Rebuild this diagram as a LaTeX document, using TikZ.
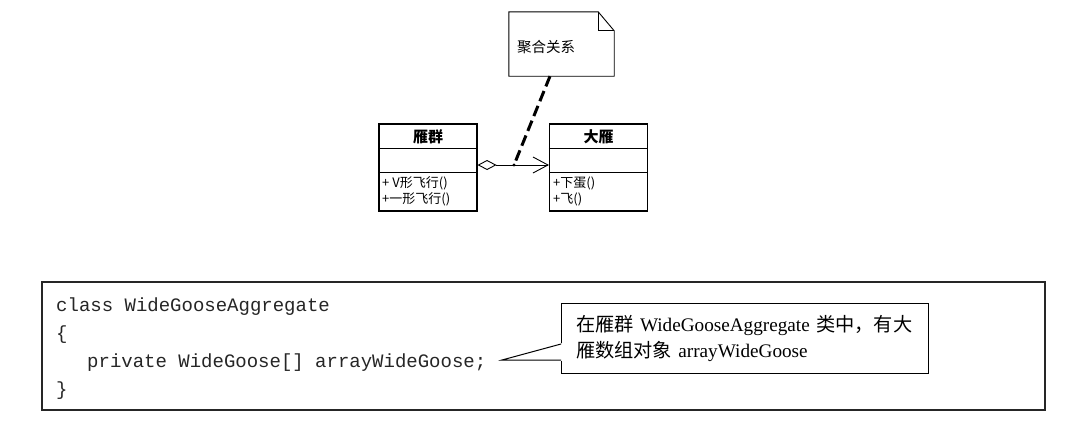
\documentclass[tikz,border=0pt]{standalone}
\usepackage{fontspec}
\setmainfont{Liberation Serif}
\setmonofont{Liberation Mono}
\newfontfamily\cjk{Noto Sans CJK SC}
\usetikzlibrary{arrows.meta}
\tikzset{
  classbox/.style={draw=black, line width=1.1pt, minimum width=98pt, minimum height=87pt, inner sep=0pt, fill=white},
  ctitle/.style={font=\cjk\bfseries\fontsize{15}{17}\selectfont, inner sep=0pt},
  member/.style={font=\cjk\fontsize{13}{15}\selectfont, inner sep=0pt, anchor=west},
  notebox/.style={minimum width=105pt, minimum height=64pt, inner sep=0pt},
  notetext/.style={font=\cjk\fontsize{14.5}{16}\selectfont, inner sep=0pt, anchor=west},
  codeline/.style={font=\ttfamily\fontsize{19}{22}\selectfont, inner sep=0pt, anchor=base west, text=black!85},
  codebox/.style={draw=black!85, line width=1.5pt, minimum width=1003pt, minimum height=128pt, inner sep=0pt},
  callbox/.style={draw=black, line width=1pt, fill=white, minimum width=367pt, minimum height=70pt, inner xsep=15pt, inner ysep=0pt, text width=337pt, align=left, font=\fontsize{19.2}{26}\selectfont},
  aggr/.style={line width=0.9pt, {Diamond[open, length=19pt, width=10pt, line width=0.9pt]}-{Straight Barb[length=15pt, width=16pt, line width=0.9pt]}},
  notelink/.style={line width=3pt, dash pattern=on 11pt off 5pt}
}
\begin{document}
\begin{tikzpicture}[x=1pt,y=-1pt]
\useasboundingbox[fill=white] (0,0) rectangle (1084,429);

% note
\node[notebox] (note) at (561.5,44) {};
\draw[line width=0.9pt, fill=white] (note.north west) -- ([xshift=-16pt]note.north east) -- ([yshift=-19pt]note.north east) -- (note.south east) -- (note.south west) -- cycle;
\draw[line width=0.9pt] ([xshift=-16pt]note.north east) -- ([xshift=-16pt,yshift=-19pt]note.north east) -- ([yshift=-19pt]note.north east);
\node[notetext] (nt) at (517,47) {聚合关系};

% classes
\node[classbox] (g) at (428,167.5) {};
\draw[line width=1.1pt] ([yshift=-25pt]g.north west) -- ([yshift=-25pt]g.north east);
\draw[line width=1.1pt] ([yshift=-49pt]g.north west) -- ([yshift=-49pt]g.north east);
\node[ctitle] (gt) at (428,137) {雁群};
\node[member] (gm1) at (382,183) {+\hspace{3pt}V形飞行()};
\node[member] (gm2) at (382,199) {+一形飞行()};

\node[classbox] (d) at (598.5,167.5) {};
\draw[line width=1.1pt] ([yshift=-25pt]d.north west) -- ([yshift=-25pt]d.north east);
\draw[line width=1.1pt] ([yshift=-49pt]d.north west) -- ([yshift=-49pt]d.north east);
\node[ctitle] (dt) at (598.5,137) {大雁};
\node[member] (dm1) at (553,183) {+下蛋()};
\node[member] (dm2) at (553,199) {+飞()};

% aggregation
\coordinate (dot) at (514,165);
\draw[aggr] (g.east |- dot) -- (d.west |- dot);
\fill (dot) circle (1.6pt);
\draw[notelink] ([xshift=-11.5pt]note.south) -- (dot);

% code box
\node[codebox] (code) at (543.5,346) {};
\node[codeline] (c1) at (56,311) {class WideGooseAggregate};
\node[codeline] (c2) at (56,339) {\{};
\node[codeline] (c3) at (87,367) {private WideGoose[] arrayWideGoose;};
\node[codeline] (c4) at (56,395) {\}};

% callout
\node[callbox] (call) at (744.5,338) {{\cjk 在雁群} WideGooseAggregate {\cjk 类中，有大}\\{\cjk 雁数组对象} arrayWideGoose};
\coordinate (tip) at (502,360);
\coordinate (bu) at (561,344);
\coordinate (bl) at (561,360);
\fill[white] ([xshift=1.5pt,yshift=1pt]bu) -- (tip) -- ([xshift=1.5pt,yshift=-1pt]bl) -- cycle;
\draw[line width=1pt, line join=miter] (bu) -- (tip) -- (bl);
\end{tikzpicture}
\end{document}
